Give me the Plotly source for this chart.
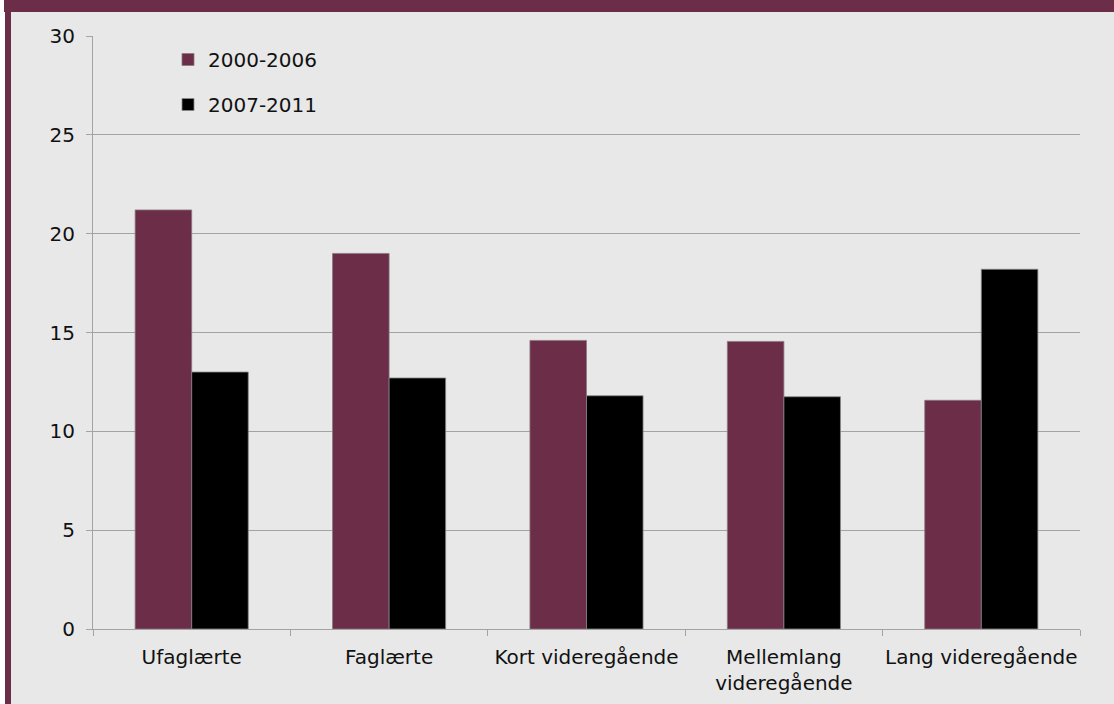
import plotly.graph_objects as go

categories = ["Ufaglærte", "Faglærte", "Kort videregående", "Mellemlang<br>videregående", "Lang videregående"]
series_names = ["2000-2006", "2007-2011"]
values_2000_2006 = [21.2, 19.0, 14.6, 14.55, 11.57]
values_2007_2011 = [13.0, 12.7, 11.8, 11.75, 18.2]
y_tick_values = [0, 5, 10, 15, 20, 25, 30]

MAROON = "#6B2D47"
BG = "#E8E8E8"
GRID = "#A3A3A3"
FONT = "DejaVu Sans"
FS = 20

W, H = 1114, 704
L, R, T, B = 93, 34, 36, 75
PW, PH = W - L - R, H - T - B

def px(x):
    return (x - L) / PW

def py(y):
    return (H - B - y) / PH

fig = go.Figure()
fig.add_trace(go.Bar(x=categories, y=values_2000_2006, name=series_names[0],
                     marker=dict(color=MAROON, line=dict(color="#8a7a80", width=0.8)),
                     legendgroup="a"))
fig.add_trace(go.Bar(x=categories, y=values_2007_2011, name=series_names[1],
                     marker=dict(color="#000000", line=dict(color="#888888", width=0.8)),
                     legendgroup="b"))

shapes = [
    dict(type="rect", xref="paper", yref="paper", x0=px(11), x1=px(W), y0=py(12), y1=py(H),
         fillcolor=BG, line=dict(width=0), layer="below"),
    dict(type="rect", xref="paper", yref="paper", x0=px(4), x1=px(W), y0=py(0), y1=py(12),
         fillcolor=MAROON, line=dict(width=0), layer="below"),
    dict(type="rect", xref="paper", yref="paper", x0=px(5), x1=px(11), y0=py(12), y1=py(H),
         fillcolor=MAROON, line=dict(width=0), layer="below"),
]

fig.update_layout(
    width=W, height=H,
    margin=dict(l=L, r=R, t=T, b=B, pad=0, autoexpand=False),
    paper_bgcolor="white",
    plot_bgcolor="rgba(0,0,0,0)",
    font=dict(family=FONT, size=FS, color="#111111"),
    barmode="group",
    bargap=0.427,
    bargroupgap=0,
    shapes=shapes,
    showlegend=True,
    legend=dict(x=px(168), xanchor="left", y=py(40), yanchor="top",
                bgcolor="rgba(0,0,0,0)", borderwidth=0,
                traceorder="grouped", tracegroupgap=16,
                font=dict(family=FONT, size=FS, color="#111111"),
                itemwidth=30),
    xaxis=dict(
        type="category",
        showgrid=False,
        showline=True, linecolor=GRID, linewidth=1,
        ticks="outside", tickson="boundaries", ticklen=6, tickcolor=GRID, tickwidth=1,
        ticklabelstandoff=10, tickangle=0, automargin=False,
        tickfont=dict(family=FONT, size=FS, color="#111111"),
        fixedrange=True,
    ),
    yaxis=dict(
        range=[0, 30],
        tickvals=y_tick_values,
        showgrid=True, gridcolor=GRID, gridwidth=1,
        zeroline=False,
        showline=True, linecolor=GRID, linewidth=1,
        ticks="outside", ticklen=6, tickcolor=GRID, tickwidth=1,
        ticklabelstandoff=7, automargin=False,
        tickfont=dict(family=FONT, size=FS, color="#111111"),
        fixedrange=True,
    ),
)

fig.write_html("out.html")
